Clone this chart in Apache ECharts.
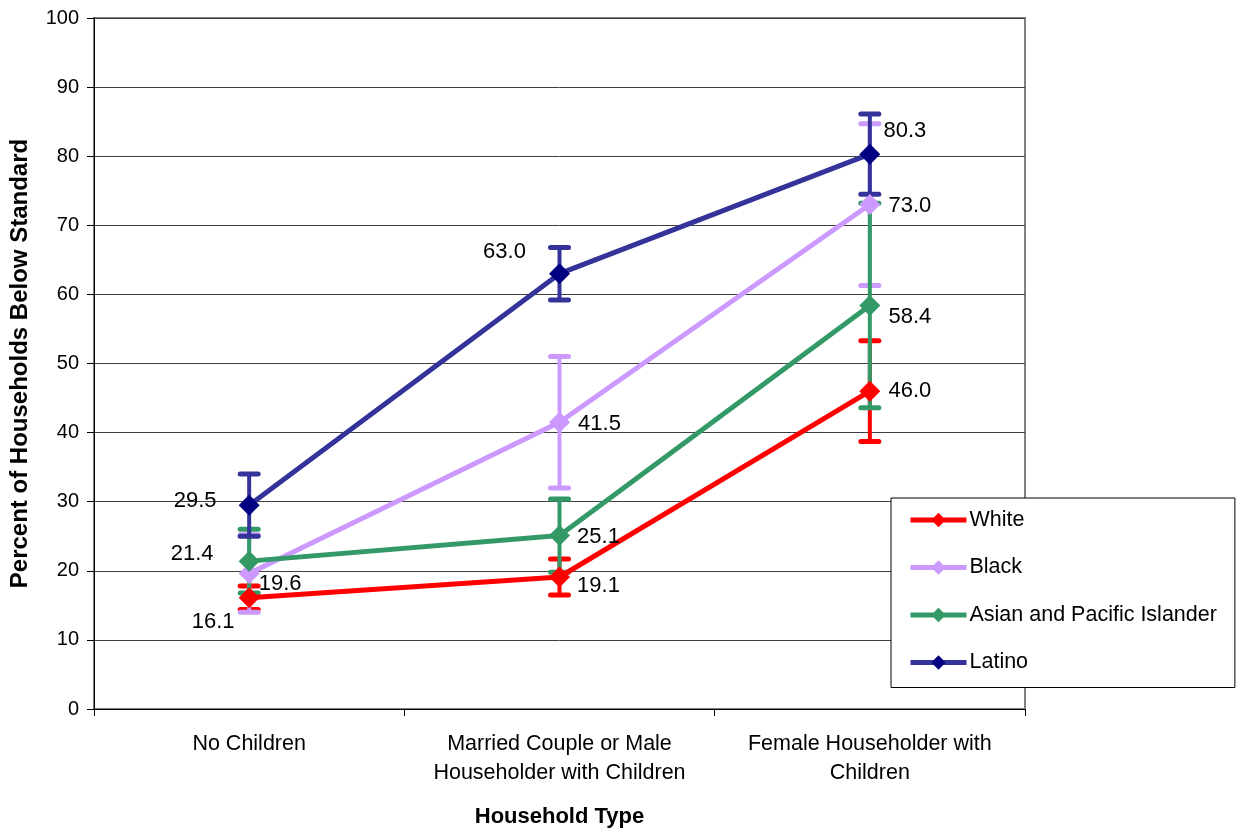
<!DOCTYPE html>
<html>
<head>
<meta charset="utf-8">
<script src="https://cdn.jsdelivr.net/npm/echarts@6/dist/echarts.min.js"></script>
<style>
  html, body { margin: 0; padding: 0; background: #fff; }
  #chart { width: 1236px; height: 833px; }
</style>
</head>
<body>
<div id="chart"></div>
<script>
// categories and values
var categories = ['No Children', 'Married Couple or Male\nHouseholder with Children', 'Female Householder with\nChildren'];
var yTicks = [0, 10, 20, 30, 40, 50, 60, 70, 80, 90, 100];

var white = [16.1, 19.1, 46.0];
var whiteErr = [1.7, 2.6, 7.3];
var black = [19.6, 41.5, 73.0];
var blackErr = [5.6, 9.5, 11.7];
var asian = [21.4, 25.1, 58.4];
var asianErr = [4.6, 5.3, 14.8];
var latino = [29.5, 63.0, 80.3];
var latinoErr = [4.5, 3.8, 5.8];

// label offsets (pixels from the marker centre)
var labelOffsets = {
    White:  [[-36, 24], [39, 9], [40, 0]],
    Black:  [[31, 10], [40, 2], [40, 1]],
    Asian:  [[-57, -7], [39, 1], [40, 11]],
    Latino: [[-54, -4], [-55, -22], [35, -23]]
};

var font = '"Liberation Sans", Arial, sans-serif';

function lineSeries(name, key, values, lineColor, markerColor) {
    return {
        name: name,
        type: 'line',
        data: values.map(function (v, i) {
            return {
                value: v,
                label: {offset: labelOffsets[key][i]}
            };
        }),
        symbol: 'diamond',
        symbolSize: 21,
        lineStyle: {color: lineColor, width: 5},
        itemStyle: {color: markerColor},
        label: {
            show: true,
            position: 'inside',
            formatter: function (p) { return p.value.toFixed(1); },
            color: '#000',
            fontSize: 22,
            fontFamily: font
        },
        emphasis: {disabled: true},
        animation: false
    };
}

function errSeries(name, values, errs, color) {
    return {
        name: name + ' err',
        type: 'custom',
        data: values.map(function (v, i) { return [i, v - errs[i], v + errs[i]]; }),
        encode: {x: 0, y: [1, 2]},
        renderItem: function (params, api) {
            var i = api.value(0);
            var lo = api.coord([i, api.value(1)]);
            var hi = api.coord([i, api.value(2)]);
            var hw = 9;
            var st = {stroke: color, lineWidth: 5, lineCap: 'round'};
            return {
                type: 'group',
                children: [
                    {type: 'line', shape: {x1: lo[0], y1: lo[1], x2: hi[0], y2: hi[1]}, style: {stroke: color, lineWidth: 4}},
                    {type: 'line', shape: {x1: lo[0] - hw, y1: lo[1], x2: lo[0] + hw, y2: lo[1]}, style: st},
                    {type: 'line', shape: {x1: hi[0] - hw, y1: hi[1], x2: hi[0] + hw, y2: hi[1]}, style: st}
                ]
            };
        },
        silent: true,
        animation: false
    };
}

var chart = echarts.init(document.getElementById('chart'), null, {renderer: 'canvas'});

var option = {
    backgroundColor: '#fff',
    textStyle: {fontFamily: font},
    grid: {
        left: 94, right: 211, top: 18, bottom: 122,
        show: true, borderColor: '#808080', borderWidth: 2
    },
    legend: {
        data: ['White', 'Black', 'Asian and Pacific Islander', 'Latino'],
        orient: 'vertical',
        left: 891,
        top: 498,
        padding: [11, 18, 14, 17],
        itemGap: 25.5,
        itemWidth: 56,
        itemHeight: 18,
        lineStyle: {width: 5},
        borderColor: '#000',
        borderWidth: 1,
        backgroundColor: '#fff',
        textStyle: {fontSize: 21.5, color: '#000', fontFamily: font, lineHeight: 22, padding: [0, 0, 0, -2]}
    },
    xAxis: {
        type: 'category',
        data: categories,
        boundaryGap: true,
        name: 'Household Type',
        nameLocation: 'middle',
        nameGap: 97,
        nameTextStyle: {fontSize: 22, fontWeight: 'bold', color: '#000'},
        axisLine: {lineStyle: {color: '#000', width: 1}},
        axisTick: {show: true, length: 7, lineStyle: {color: '#000'}},
        axisLabel: {fontSize: 21.5, color: '#000', lineHeight: 29, margin: 21, interval: 0}
    },
    yAxis: {
        type: 'value',
        min: 0,
        max: 100,
        interval: 10,
        name: 'Percent of Households Below Standard',
        nameLocation: 'middle',
        nameGap: 62,
        nameTextStyle: {fontSize: 24, fontWeight: 'bold', color: '#000'},
        axisLine: {show: true, lineStyle: {color: '#000', width: 1}},
        axisTick: {show: true, length: 7, lineStyle: {color: '#000'}},
        axisLabel: {
            fontSize: 20, color: '#000', margin: 15,
            formatter: function (v) { return yTicks.indexOf(v) >= 0 ? String(v) : ''; }
        },
        splitLine: {show: true, lineStyle: {color: '#404040', width: 1}}
    },
    series: [
        errSeries('White', white, whiteErr, '#FF0000'),
        lineSeries('White', 'White', white, '#FF0000', '#FF0000'),
        errSeries('Black', black, blackErr, '#CC99FF'),
        lineSeries('Black', 'Black', black, '#CC99FF', '#CC99FF'),
        errSeries('Asian', asian, asianErr, '#339966'),
        lineSeries('Asian and Pacific Islander', 'Asian', asian, '#339966', '#339966'),
        errSeries('Latino', latino, latinoErr, '#333399'),
        lineSeries('Latino', 'Latino', latino, '#333399', '#000080')
    ]
};

chart.setOption(option);
</script>
</body>
</html>
